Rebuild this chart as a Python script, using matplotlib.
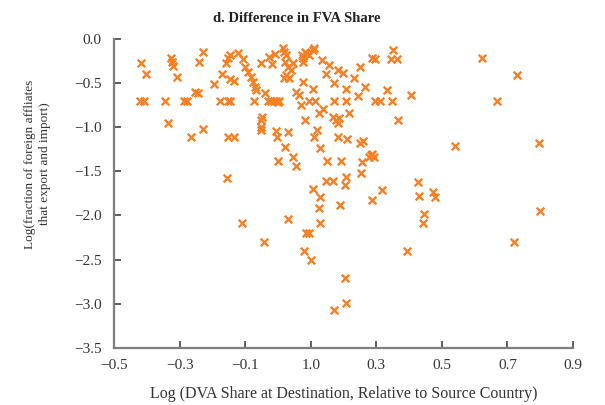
import matplotlib
matplotlib.use("Agg")
import matplotlib.pyplot as plt

# ---------------------------------------------------------------------------
# Data
# ---------------------------------------------------------------------------
dva_share = [
    -0.417, -0.404, -0.422, -0.409, -0.346, -0.334, -0.327, -0.324, -0.319, -0.309,
    -0.287, -0.278, -0.265, -0.254, -0.243, -0.241, -0.228, -0.228, -0.194, -0.171,
    -0.177, -0.152, -0.145, -0.159, -0.152, -0.147, -0.157, -0.152, -0.133, -0.147,
    -0.133, -0.121, -0.106, -0.101, -0.091, -0.083, -0.076, -0.069, -0.068, -0.073,
    -0.053, -0.053, -0.048, -0.053, -0.053, -0.039, -0.030, -0.020, -0.011, -0.005,
    0.004, 0.000, -0.028, -0.018, -0.008, -0.005, -0.003, 0.000, 0.015, 0.018,
    0.025, 0.020, 0.031, 0.018, 0.025, 0.034, 0.041, 0.046, 0.022, 0.032,
    0.046, 0.056, 0.056, 0.063, 0.069, 0.074, 0.076, 0.076, 0.081, 0.086,
    0.076, 0.081, 0.096, 0.106, 0.111, 0.096, 0.106, 0.113, 0.111, 0.119,
    0.108, 0.126, 0.129, 0.137, 0.129, 0.135, 0.145, 0.149, 0.147, 0.167,
    0.157, 0.172, 0.171, 0.167, 0.177, 0.182, 0.185, 0.182, 0.182, 0.198,
    0.192, 0.208, 0.208, 0.210, 0.208, 0.205, 0.218, 0.233, 0.251, 0.245,
    0.265, 0.286, 0.297, 0.351, 0.344, 0.362, 0.332, 0.297, 0.312, 0.349,
    0.405, 0.365, 0.251, 0.260, 0.285, 0.288, 0.278, 0.292, 0.256, 0.253,
    0.316, 0.427, 0.430, 0.474, 0.478, 0.286, 0.539, 0.621, 0.729, 0.668,
    0.797, 0.190, 0.445, 0.442, 0.800, 0.719, 0.395, 0.205, 0.208, 0.170,
    -0.111, -0.042, 0.032, 0.086, 0.096, 0.078, 0.102, 0.125, 0.129,
]
fva_fraction = [
    -0.275, -0.400, -0.700, -0.700, -0.700, -0.955, -0.219, -0.264, -0.306, -0.427,
    -0.700, -0.700, -1.106, -0.600, -0.608, -0.257, -0.144, -1.019, -0.513, -0.400,
    -0.700, -0.700, -0.700, -0.275, -0.219, -0.181, -1.580, -1.106, -1.106, -0.456,
    -0.476, -0.155, -0.230, -0.314, -0.370, -0.427, -0.484, -0.540, -0.578, -0.700,
    -0.275, -0.917, -0.887, -0.993, -1.031, -0.608, -0.700, -0.700, -0.700, -0.700,
    -0.700, -0.720, -0.200, -0.287, -0.173, -1.038, -1.106, -1.382, -0.105, -0.144,
    -0.181, -0.264, -0.314, -0.445, -0.408, -0.445, -0.351, -0.275, -1.220, -1.057,
    -1.333, -1.438, -0.597, -0.634, -0.747, -0.181, -0.219, -0.257, -0.144, -0.162,
    -0.484, -0.917, -0.181, -0.125, -0.105, -0.700, -0.570, -0.700, -1.106, -1.031,
    -1.702, -0.841, -1.238, -0.796, -1.786, -0.238, -0.400, -1.382, -1.605, -1.605,
    -0.294, -0.502, -0.700, -0.887, -0.917, -0.955, -0.898, -1.106, -0.351, -0.388,
    -1.382, -0.700, -0.570, -1.136, -1.559, -1.653, -0.841, -0.445, -0.314, -0.642,
    -0.547, -0.212, -0.226, -0.125, -0.226, -0.226, -0.578, -0.700, -0.700, -0.700,
    -0.634, -0.917, -1.174, -1.152, -1.314, -1.302, -1.333, -1.333, -1.390, -1.521,
    -1.706, -1.616, -1.775, -1.736, -1.793, -1.830, -1.208, -0.212, -0.408, -0.700,
    -1.181, -1.880, -1.985, -2.087, -1.948, -2.302, -2.397, -2.703, -2.993, -3.069,
    -2.080, -2.302, -2.038, -2.194, -2.194, -2.397, -2.503, -1.911, -2.080,
]

x_ticks = [-0.5, -0.3, -0.1, 0.1, 0.3, 0.5, 0.7, 0.9]
x_tick_labels = ["\u22120.5", "\u22120.3", "\u22120.1", "1.0", "0.3", "0.5", "0.7", "0.9"]
y_ticks = [0.0, -0.5, -1.0, -1.5, -2.0, -2.5, -3.0, -3.5]
y_tick_labels = ["0.0", "\u22120.5", "\u22121.0", "\u22121.5", "\u22122.0", "\u22122.5", "\u22123.0", "\u22123.5"]

ORANGE = "#F58025"
AXIS_GREY = "#7F7F7F"
TEXT_COL = "#333333"

plt.rcParams["font.family"] = ["Liberation Serif", "DejaVu Serif"]

fig = plt.figure(figsize=(6.05, 4.05), dpi=100)
ax = fig.add_axes([0.1885, 0.141, 0.7587, 0.763])

ax.scatter(dva_share, fva_fraction, marker="x", s=30, linewidths=1.7,
           color=ORANGE, zorder=3)

ax.set_xlim(-0.5, 0.9)
ax.set_ylim(-3.5, 0.0)
ax.set_xticks(x_ticks)
ax.set_xticklabels(x_tick_labels)
ax.set_yticks(y_ticks)
ax.set_yticklabels(y_tick_labels)

for side in ("top", "right"):
    ax.spines[side].set_visible(False)
for side in ("left", "bottom"):
    ax.spines[side].set_color(AXIS_GREY)
    ax.spines[side].set_linewidth(1.6)

ax.tick_params(direction="in", length=5, width=1.2, color="#444444",
               labelsize=11, labelcolor=TEXT_COL, pad=9)
ax.tick_params(axis="x", pad=8)

ax.set_xlabel("Log (DVA Share at Destination, Relative to Source Country)",
              fontsize=11.5, color=TEXT_COL, labelpad=10)
fig.text(0.062, 0.595, "Log(fraction of foreign affliates\nthat export and import)",
         rotation=90, ha="center", va="center", fontsize=9.5, color=TEXT_COL,
         linespacing=1.25)

fig.text(0.49, 0.955, "d. Difference in FVA Share", ha="center", va="center",
         fontsize=10.5, fontweight="bold", color="#222222")

fig.savefig("out.png", dpi=100)
